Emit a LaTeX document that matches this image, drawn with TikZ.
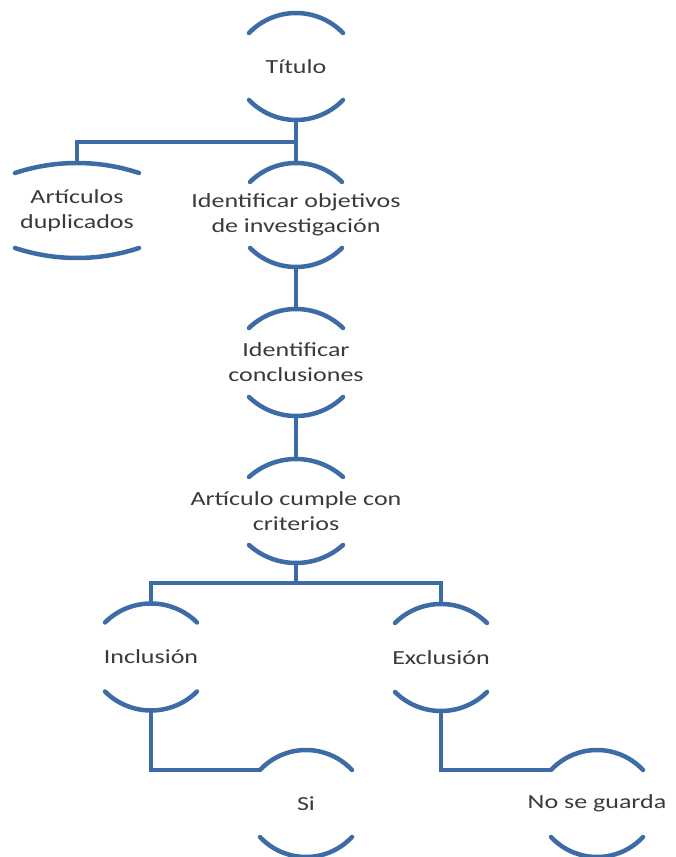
\documentclass[tikz,border=0pt]{standalone}
\usepackage{fontspec}
\setmainfont{Carlito}[FakeStretch=1.3]
\definecolor{segblue}{HTML}{3D6BA6}
\definecolor{txtgray}{HTML}{3A3A3A}
\tikzset{
  seg/.style={draw=segblue, line width=4.5pt, line cap=round},
  conn/.style={draw=segblue, line width=4.5pt},
  lbl/.style={align=center, text=txtgray, inner sep=0pt,
    font=\fontsize{20}{25}\selectfont}
}
% name, cx, cy, half width, sagitta, half gap, text
\newcommand\segnode[7]{%
  \node[lbl] (#1) at (#2,#3) {#7};
  \pgfmathsetmacro\segr{(#4*#4+#5*#5)/(2*#5)}%
  \pgfmathsetmacro\sega{asin(#4/\segr)}%
  \coordinate (#1-t) at (#2,#3+#6+#5);
  \coordinate (#1-b) at (#2,#3-#6-#5);
  \coordinate (#1-tl) at (#2-#4,#3+#6);
  \draw[seg] (#2-#4,#3+#6) arc[start angle=90+\sega, end angle=90-\sega, radius=\segr];
  \draw[seg] (#2-#4,#3-#6) arc[start angle=270-\sega, end angle=270+\sega, radius=\segr];
}
\begin{document}
\begin{tikzpicture}[x=1pt,y=1pt]
\useasboundingbox (0,0) rectangle (675,857);
\segnode{tit}{296}{790.5}{47}{20}{33.5}{Título}
\segnode{dup}{77}{646.5}{62}{10}{37.5}{Artículos\\duplicados}
\segnode{obj}{296}{642}{46}{19}{33}{Identificar objetivos\\de investigación}
\segnode{conc}{296}{494.5}{47}{19}{34.5}{Identificar\\conclusiones}
\segnode{art}{296}{346}{47}{18}{34}{Artículo cumple con\\criterios}
\segnode{inc}{151}{200}{46}{19}{34.5}{Inclusión}
\segnode{exc}{441}{199.5}{46}{19}{34.5}{Exclusión}
\segnode{si}{306}{53.5}{46}{20}{33.5}{Si}
\segnode{nsg}{597}{53.5}{46}{20}{33.5}{No se guarda}
\coordinate (j1) at (296,715);
\coordinate (j2) at (296,274);
\draw[conn] (tit-b) -- (obj-t);
\draw[conn] (j1) -| (dup-t);
\draw[conn] (obj-b) -- (conc-t);
\draw[conn] (conc-b) -- (art-t);
\draw[conn] (art-b) -- (j2);
\draw[conn] (inc-t) |- (j2) -| (exc-t);
\draw[conn] (inc-b) |- (si-tl);
\draw[conn] (exc-b) |- (nsg-tl);
\end{tikzpicture}
\end{document}
